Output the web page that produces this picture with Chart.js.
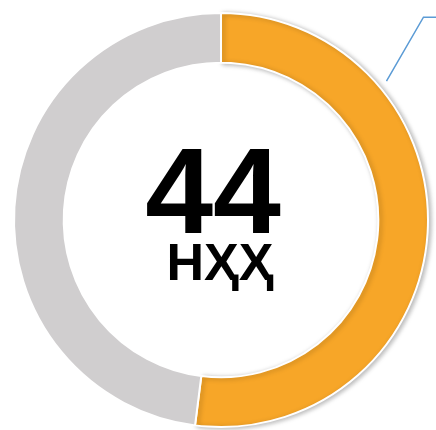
<!DOCTYPE html>
<html>
<head>
<meta charset="utf-8">
<script src="https://cdn.jsdelivr.net/npm/chart.js@4"></script>
<style>
  html, body { margin: 0; padding: 0; background: #fff; }
  #wrap { width: 436px; height: 430px; position: relative; }
</style>
</head>
<body>
<div id="wrap"><canvas id="chart"></canvas></div>
<script>
// ----- Data -----
const labels = ['Done', 'Rest'];
const values = [52, 48];
const colors = ['#F7A628', '#D0CECF'];
const bigText = '44';
const subText = 'НҲҲ';

// soft shadow under the orange slice only
const sliceShadow = {
  id: 'sliceShadow',
  afterUpdate(chart) {
    const el = chart.getDatasetMeta(0).data[0];
    if (!el || el._shadowed) return;
    const orig = el.draw.bind(el);
    el.draw = function (ctx) {
      ctx.save();
      ctx.shadowColor = 'rgba(0,0,0,0.28)';
      ctx.shadowBlur = 5;
      ctx.shadowOffsetX = 2;
      ctx.shadowOffsetY = 1;
      orig(ctx);
      ctx.restore();
    };
    el._shadowed = true;
  }
};

// centre text + leader line
const centerText = {
  id: 'centerText',
  afterDraw(chart) {
    const arc = chart.getDatasetMeta(0).data[0];
    if (!arc) return;
    const { x, y, outerRadius } = arc.getProps(['x', 'y', 'outerRadius'], true);
    const ctx = chart.ctx;
    ctx.save();
    ctx.fillStyle = '#000';
    ctx.textAlign = 'center';
    ctx.textBaseline = 'alphabetic';
    ctx.font = 'bold 122px "Liberation Sans", Arial, "DejaVu Sans", sans-serif';
    ctx.fillText(bigText, x - 8, y + 13);
    ctx.font = 'bold 52px "Liberation Sans", Arial, "DejaVu Sans", sans-serif';
    ctx.fillText(subText, x - 1, y + 60);

    // leader line from the orange arc to the top right
    const a = (50 - 90) * Math.PI / 180;
    const sx = x + Math.cos(a) * (outerRadius + 9);
    const sy = y + Math.sin(a) * (outerRadius + 9);
    ctx.strokeStyle = '#5B9BD5';
    ctx.lineWidth = 1.5;
    ctx.beginPath();
    ctx.moveTo(sx, sy);
    ctx.lineTo(sx + 37, sy - 64);
    ctx.lineTo(chart.width, sy - 64);
    ctx.stroke();
    ctx.restore();
  }
};

new Chart(document.getElementById('chart'), {
  type: 'doughnut',
  data: {
    labels: labels,
    datasets: [{
      data: values,
      backgroundColor: colors,
      borderColor: '#ffffff',
      borderWidth: 2,
    }],
  },
  options: {
    responsive: true,
    maintainAspectRatio: false,
    animation: false,
    cutout: '76%',
    layout: { padding: { left: 13, right: 7, top: 12, bottom: 2 } },
    plugins: {
      legend: { display: false },
      tooltip: { enabled: false },
    },
  },
  plugins: [sliceShadow, centerText],
});
</script>
</body>
</html>
